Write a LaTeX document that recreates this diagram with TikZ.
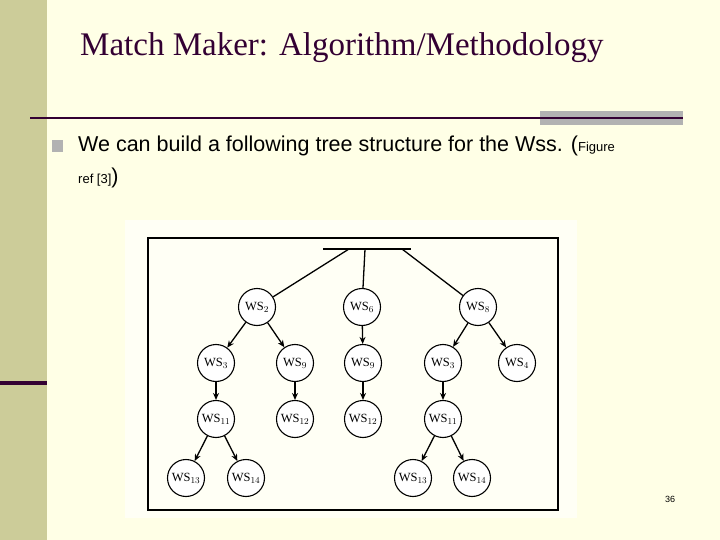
\documentclass[tikz,border=0pt]{standalone}
\usepackage{fontspec}
\setmainfont{Liberation Serif}
\newfontfamily\arial{Liberation Sans}
\usetikzlibrary{arrows.meta}
\definecolor{bg}{RGB}{255,255,230}
\definecolor{side}{RGB}{204,204,153}
\definecolor{dpurple}{RGB}{51,0,51}
\definecolor{gbar}{RGB}{178,178,178}
\begin{document}
\begin{tikzpicture}[x=1pt,y=-1pt,
  ws/.style={circle,draw,line width=1.1pt,minimum size=37pt,inner sep=0pt,font=\fontsize{12.5}{12}\selectfont,fill=white},
  ed/.style={line width=1.3pt,-{Stealth[length=7pt,width=6pt]}}]
\fill[bg] (0,0) rectangle (720,540);
\useasboundingbox (0,0) rectangle (720,540);
\fill[side] (0,0) rectangle (47,540);
\fill[dpurple] (0,381) rectangle (47,385);
\fill[gbar] (540,111) rectangle (683,125);
\draw[dpurple,line width=1.5pt] (30,118) -- (683,118);
\node[anchor=west,inner sep=0pt,text=dpurple,font=\fontsize{33}{35}\selectfont] (title) at (80,48) {Match Maker: Algorithm/Methodology};
\fill[gbar] (52,140) rectangle (63,152);
\node[anchor=west,inner sep=0pt,font=\arial\fontsize{21.5}{24}\selectfont] (b1) at (78,146) {We can build a following tree structure for the Wss. ({\fontsize{13}{14}\selectfont Figure}};
\node[anchor=west,inner sep=0pt,font=\arial\fontsize{13}{14}\selectfont] (b2) at (78,178) {ref [3]{\fontsize{21.5}{24}\selectfont)}};
\fill[white!60!bg] (125,220) rectangle (577,518);
\draw[line width=1.6pt] (148,238) rectangle (558,510);
\draw[line width=1.4pt] (323,249) -- (411,249);
\coordinate (t1) at (349,249);\coordinate (t2) at (365,249);\coordinate (t3) at (402,249);
\node[ws] (a) at (257,307) {WS$_2$};
\node[ws] (b) at (362,307) {WS$_6$};
\node[ws] (c) at (478,307) {WS$_8$};
\node[ws] (a1) at (216,363) {WS$_3$};
\node[ws] (a2) at (295,363) {WS$_9$};
\node[ws] (b1n) at (363,363) {WS$_9$};
\node[ws] (c1) at (443,363) {WS$_3$};
\node[ws] (c2) at (517,363) {WS$_4$};
\node[ws] (a11) at (216,419) {WS$_{11}$};
\node[ws] (a21) at (295,419) {WS$_{12}$};
\node[ws] (b11) at (363,419) {WS$_{12}$};
\node[ws] (c11) at (443,419) {WS$_{11}$};
\node[ws] (x1) at (186,478) {WS$_{13}$};
\node[ws] (x2) at (246,478) {WS$_{14}$};
\node[ws] (y1) at (413,478) {WS$_{13}$};
\node[ws] (y2) at (472,478) {WS$_{14}$};
\draw[line width=1.3pt] (t1) -- (a); \draw[line width=1.3pt] (t2) -- (b); \draw[line width=1.3pt] (t3) -- (c);
\draw[ed] (a) -- (a1); \draw[ed] (a) -- (a2); \draw[ed] (b) -- (b1n);
\draw[ed] (c) -- (c1); \draw[ed] (c) -- (c2);
\draw[ed] (a1) -- (a11); \draw[ed] (a2) -- (a21); \draw[ed] (b1n) -- (b11); \draw[ed] (c1) -- (c11);
\draw[ed] (a11) -- (x1); \draw[ed] (a11) -- (x2); \draw[ed] (c11) -- (y1); \draw[ed] (c11) -- (y2);
\node[font=\arial\fontsize{9}{9}\selectfont] (pg) at (670,499) {36};
\end{tikzpicture}
\end{document}
